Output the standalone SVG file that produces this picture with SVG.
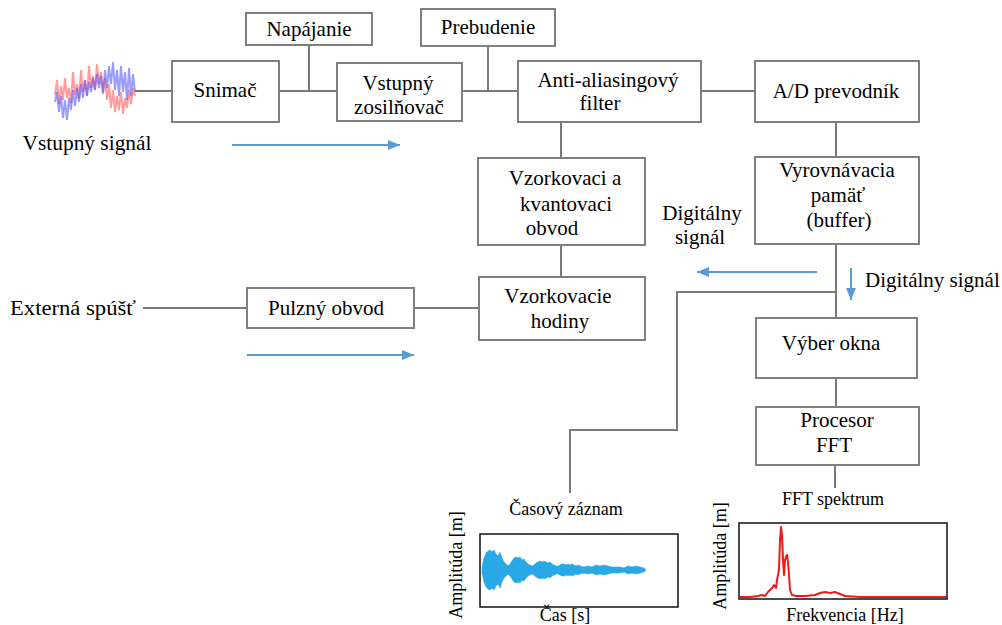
<svg xmlns="http://www.w3.org/2000/svg" width="1002" height="625" viewBox="0 0 1002 625">
<style>
.box{fill:#fff;stroke:#7f7f7f;stroke-width:2}
.t{font-family:"Liberation Serif","DejaVu Serif",serif;font-size:21px;fill:#000;text-anchor:middle}
.s{font-family:"Liberation Serif","DejaVu Serif",serif;font-size:18px;fill:#000;text-anchor:middle}
.ln{fill:none;stroke:#7a7a7a;stroke-width:2}
.ba{fill:none;stroke:#5b9bd5;stroke-width:2;marker-end:url(#ah)}
.chart{fill:#fff;stroke:#111;stroke-width:1.5}
</style>
<defs>
<marker id="ah" markerUnits="userSpaceOnUse" markerWidth="12" markerHeight="10" refX="12" refY="5" orient="auto">
<path d="M0,0 L12,5 L0,10 z" fill="#5b9bd5"/>
</marker>
<filter id="soft" x="-10%" y="-10%" width="120%" height="120%"><feGaussianBlur stdDeviation="0.7"/></filter>
</defs>
<rect width="1002" height="625" fill="#fff"/>

<g id="input-signal">
<g filter="url(#soft)">
<polyline fill="none" stroke="#ff4d4d" stroke-opacity="0.55" stroke-width="2" points="55,95 57,80 59,104 61,86 63,100 65,78 67,98 69,88 71,103 73,72 75,95 77,84 79,99 81,70 83,92 85,80 87,96 89,66 91,88 93,76 95,90 97,64 99,84 101,72 103,92 105,78 107,100 109,84 111,108 113,90 115,112 117,96 119,110 121,92 123,114 125,98 127,108 129,90 131,104 133,88 135,96"/>
<polyline fill="none" stroke="#4d4dff" stroke-opacity="0.55" stroke-width="2" points="55,102 57,92 59,112 61,96 63,118 65,100 67,120 69,98 71,110 73,90 75,106 77,88 79,102 81,84 83,98 85,80 87,96 89,82 91,92 93,78 95,90 97,74 99,88 101,76 103,94 105,70 107,88 109,66 111,84 113,62 115,90 117,70 119,96 121,66 123,92 125,72 127,100 129,68 131,96 133,74 135,92"/>
</g>
<text class="t" x="87" y="150" textLength="129" lengthAdjust="spacingAndGlyphs">Vstupný signál</text>
</g>

<g id="connectors">
<line class="ln" x1="135" y1="91" x2="172" y2="91"/>
<line class="ln" x1="279" y1="91" x2="337" y2="91"/>
<line class="ln" x1="309" y1="45" x2="309" y2="91"/>
<line class="ln" x1="462" y1="91" x2="518" y2="91"/>
<line class="ln" x1="488" y1="46" x2="488" y2="91"/>
<line class="ln" x1="701" y1="91" x2="755" y2="91"/>
<line class="ln" x1="561" y1="122" x2="561" y2="158"/>
<line class="ln" x1="836" y1="122" x2="836" y2="157"/>
<line class="ln" x1="561" y1="245" x2="561" y2="277"/>
<line class="ln" x1="143" y1="308" x2="247" y2="308"/>
<line class="ln" x1="414" y1="308" x2="479" y2="308"/>
<line class="ln" x1="836" y1="244" x2="836" y2="318"/>
<polyline class="ln" points="836,292 677,292 677,430 570,430 570,493"/>
<line class="ln" x1="836" y1="378" x2="836" y2="407"/>
<line class="ln" x1="835" y1="465" x2="835" y2="488"/>
<line class="ba" x1="232" y1="145" x2="400" y2="145"/>
<line class="ba" x1="247" y1="355" x2="414" y2="355"/>
<line class="ba" x1="817" y1="272" x2="697" y2="272"/>
<line class="ba" x1="851" y1="268" x2="851" y2="300"/>
</g>

<g id="napajanie"><rect class="box" x="246" y="13" width="126" height="32"/><text class="t" x="309" y="36">Napájanie</text></g>
<g id="prebudenie"><rect class="box" x="421" y="9" width="134" height="37"/><text class="t" x="488" y="34">Prebudenie</text></g>
<g id="snimac"><rect class="box" x="172" y="61" width="107" height="61"/><text class="t" x="225" y="97">Snimač</text></g>
<g id="zosilnovac"><rect class="box" x="337" y="63" width="125" height="58"/><text class="t" x="398" y="90">Vstupný</text><text class="t" x="399" y="114">zosilňovač</text></g>
<g id="antialiasing"><rect class="box" x="518" y="61" width="183" height="61"/><text class="t" x="608" y="87">Anti-aliasingový</text><text class="t" x="600" y="110">filter</text></g>
<g id="ad"><rect class="box" x="755" y="61" width="164" height="61"/><text class="t" x="836" y="98">A/D prevodník</text></g>
<g id="vzorkovaci"><rect class="box" x="478" y="158" width="167" height="87"/><text class="t" x="565" y="185">Vzorkovaci a</text><text class="t" x="566" y="211">kvantovaci</text><text class="t" x="552" y="235">obvod</text></g>
<g id="buffer"><rect class="box" x="755" y="157" width="164" height="87"/><text class="t" x="837" y="177">Vyrovnávacia</text><text class="t" x="838" y="202">pamäť</text><text class="t" x="839" y="227">(buffer)</text></g>
<g id="digital-left"><text class="t" x="702" y="220">Digitálny</text><text class="t" x="700" y="244">signál</text></g>
<g id="digital-right"><text class="t" x="865" y="287" style="text-anchor:start">Digitálny signál</text></g>
<g id="externa"><text class="t" x="10" y="315" style="text-anchor:start" textLength="126" lengthAdjust="spacingAndGlyphs">Externá spúšť</text></g>
<g id="pulzny"><rect class="box" x="247" y="288" width="167" height="40"/><text class="t" x="326" y="315">Pulzný obvod</text></g>
<g id="hodiny"><rect class="box" x="479" y="277" width="166" height="63"/><text class="t" x="558" y="303">Vzorkovacie</text><text class="t" x="560" y="328">hodiny</text></g>
<g id="vyber"><rect class="box" x="756" y="318" width="161" height="60"/><text class="t" x="831" y="350">Výber okna</text></g>
<g id="procesor"><rect class="box" x="756" y="407" width="163" height="58"/><text class="t" x="837" y="427">Procesor</text><text class="t" x="834" y="452">FFT</text></g>

<g id="time-record">
<text class="s" x="566" y="515">Časový záznam</text>
<rect class="chart" x="480" y="534" width="198" height="73"/>
<path fill="#29a8e6" stroke="#29a8e6" stroke-width="0.6" d="M482,567 484,558 486,553 488,551 490,550 492,552 494,550 496,554 498,556 500,552 502,558 504,562 506,564 508,566 510,564 512,561 514,558 516,557 518,558 520,557 522,560 524,559 526,562 528,564 530,565 532,566 534,565 536,563 538,562 540,561 542,562 544,561 546,562 548,563 550,562 552,564 554,565 556,566 558,566 560,565 562,564 564,564 566,565 568,564 570,565 572,564 574,565 576,566 578,565 580,566 584,567 588,566 592,567 596,565 600,566 604,565 608,566 612,567 616,567 620,567 624,568 628,566 632,567 636,566 640,567 644,568 646,570 644,572 640,573 636,574 632,573 628,574 624,572 620,573 616,573 612,573 608,574 604,575 600,574 596,575 592,573 588,574 584,573 580,574 578,575 576,574 574,575 572,576 570,575 568,576 566,575 564,576 562,576 560,575 558,574 556,574 554,575 552,576 550,578 548,577 546,578 544,579 542,578 540,579 538,578 536,577 534,575 532,574 530,575 528,576 526,578 524,581 522,580 520,583 518,582 516,583 514,582 512,579 510,576 508,574 506,576 504,578 502,582 500,588 498,584 496,586 494,590 492,588 490,590 488,589 486,587 484,582 482,573 Z"/>
<text class="s" transform="translate(462,565) rotate(-90)">Amplitúda [m]</text>
<text class="s" x="565" y="621">Čas [s]</text>
</g>

<g id="fft-spectrum">
<text class="s" x="833" y="505">FFT spektrum</text>
<rect class="chart" x="739" y="523" width="208" height="76"/>
<polyline fill="none" stroke="#f01818" stroke-width="2" stroke-linejoin="round" points="740,597 750,597 758,596 762,595 765,596 768,592 770,590 772,588 774,585 776,588 777,580 779,570 780,540 781,527 782,535 783,560 784,575 785,560 786,557 787,555 788,562 789,575 790,590 792,595 796,596 805,596 815,595 820,593 825,592 830,593 835,592 840,594 845,596 860,597 880,597 900,597 946,597"/>
<text class="s" transform="translate(726,556) rotate(-90)">Amplitúda [m]</text>
<text class="s" x="845" y="621">Frekvencia [Hz]</text>
</g>
</svg>
